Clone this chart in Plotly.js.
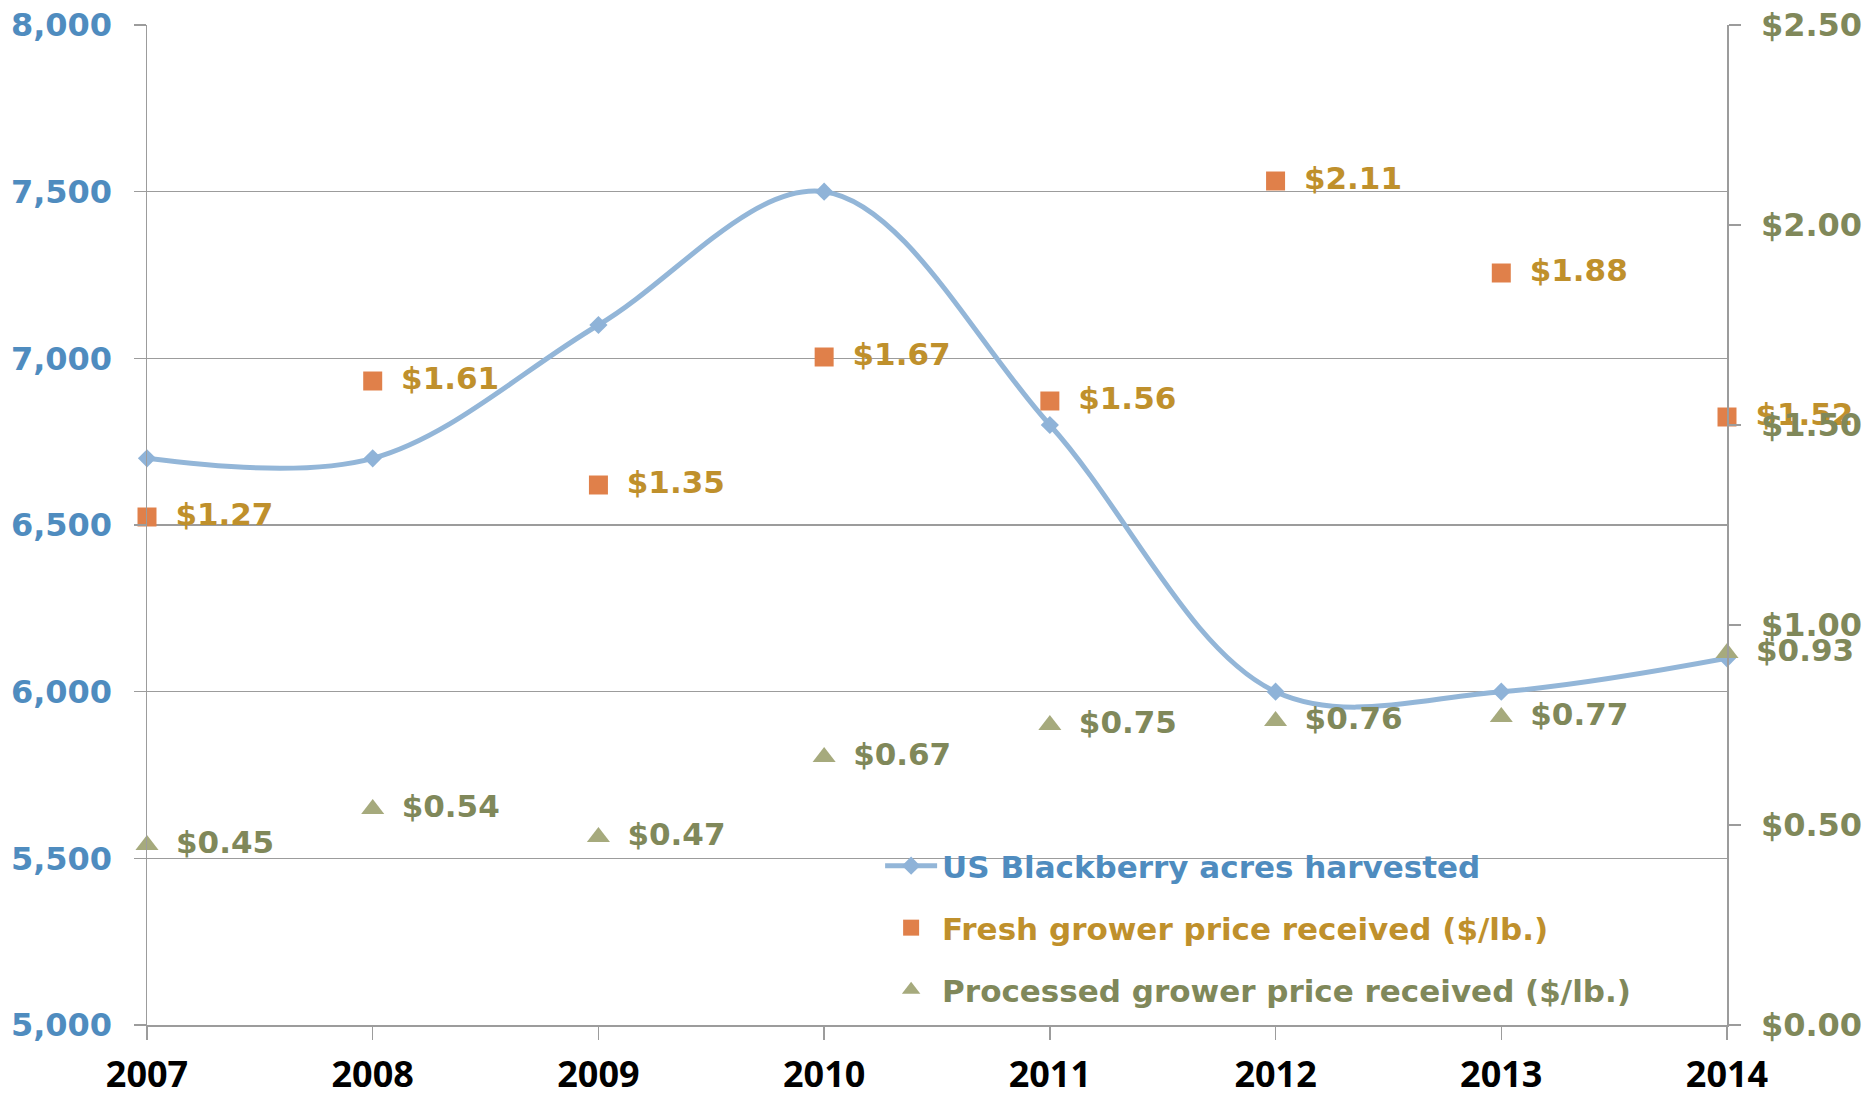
<!DOCTYPE html>
<html><head><meta charset="utf-8">
<script src="https://cdn.plot.ly/plotly-3.0.1.min.js"></script>
<style>html,body{margin:0;padding:0;background:#fff}#chart{width:1868px;height:1098px}</style>
</head><body><div id="chart"></div>
<script>
const years = [2007, 2008, 2009, 2010, 2011, 2012, 2013, 2014];
const acres = [6700, 6700, 7100, 7500, 6800, 6000, 6000, 6100];
const freshPrice = [1.27, 1.61, 1.35, 1.67, 1.56, 2.11, 1.88, 1.52];
const processedPrice = [0.45, 0.54, 0.47, 0.67, 0.75, 0.76, 0.77, 0.93];
const leftTicks = [5000, 5500, 6000, 6500, 7000, 7500, 8000];
const rightTicks = [0, 0.5, 1.0, 1.5, 2.0, 2.5];

const FONT = '"DejaVu Sans", sans-serif';
const BLUE = '#4f8cbf', GOLD = '#bf902c', OLIVE = '#80885a';
const fmt = v => '$' + v.toFixed(2);
const lbl = v => '\u2002' + fmt(v);

const traces = [
  {x: years, y: acres, name: 'US Blackberry acres harvested', type: 'scatter', mode: 'lines+markers',
   line: {color: '#93b6d8', width: 5, shape: 'spline', smoothing: 1},
   marker: {symbol: 'diamond', size: 14, color: '#8fb3d8'},
   yaxis: 'y', cliponaxis: false, legend: 'legend'},
  {x: years, y: freshPrice, name: 'Fresh grower price received ($/lb.)', type: 'scatter', mode: 'markers+text',
   marker: {symbol: 'square', size: 19, color: '#e0804a'},
   text: freshPrice.map(lbl), textposition: 'middle right',
   textfont: {family: FONT, size: 31, color: GOLD, weight: 'bold'},
   yaxis: 'y2', cliponaxis: false, legend: 'legend2'},
  {x: years, y: processedPrice, name: 'Processed grower price received ($/lb.)', type: 'scatter', mode: 'markers+text',
   marker: {symbol: 'triangle-up', size: 20, color: '#a6aa7d'},
   text: processedPrice.map(lbl), textposition: 'middle right',
   textfont: {family: FONT, size: 31, color: OLIVE, weight: 'bold'},
   yaxis: 'y2', cliponaxis: false, legend: 'legend3'}
];

const legendBase = {x: 0.464, xanchor: 'left', yanchor: 'middle', bgcolor: 'rgba(0,0,0,0)', itemsizing: 'trace', itemwidth: 52};

const layout = {
  width: 1868, height: 1098,
  margin: {l: 147, r: 141, t: 25, b: 73},
  paper_bgcolor: '#fff', plot_bgcolor: '#fff',
  showlegend: true,
  xaxis: {range: [2007, 2014], tickvals: years, ticktext: years.map(String),
    showgrid: false, zeroline: false, showline: true, linecolor: '#9c9c9c', linewidth: 1.5,
    ticks: 'outside', ticklen: 13, tickcolor: '#9c9c9c', tickwidth: 1.5, ticklabelstandoff: 4,
    tickfont: {family: '"Open Sans", sans-serif', size: 36, color: '#000', weight: 'bold'}},
  yaxis: {range: [5000, 8000], tickvals: leftTicks, ticktext: leftTicks.map(v => v.toLocaleString('en-US')),
    showgrid: true, gridcolor: '#9c9c9c', gridwidth: 1.5, zeroline: false,
    showline: true, linecolor: '#9c9c9c', linewidth: 1.5,
    ticks: 'outside', ticklen: 12, tickcolor: '#9c9c9c', tickwidth: 1.5, ticklabelstandoff: 15,
    tickfont: {family: FONT, size: 32, color: BLUE, weight: 'bold'}},
  yaxis2: {range: [0, 2.5], tickvals: rightTicks, ticktext: rightTicks.map(fmt), overlaying: 'y', side: 'right',
    showgrid: false, zeroline: false, showline: true, linecolor: '#9c9c9c', linewidth: 1.5,
    ticks: 'outside', ticklen: 12, tickcolor: '#9c9c9c', tickwidth: 1.5, ticklabelstandoff: 14,
    tickfont: {family: FONT, size: 32, color: OLIVE, weight: 'bold'}},
  legend: Object.assign({}, legendBase, {y: 0.159, font: {family: FONT, size: 31, color: BLUE, weight: 'bold'}}),
  legend2: Object.assign({}, legendBase, {y: 0.097, font: {family: FONT, size: 31, color: GOLD, weight: 'bold'}}),
  legend3: Object.assign({}, legendBase, {y: 0.035, font: {family: FONT, size: 31, color: OLIVE, weight: 'bold'}})
};

Plotly.newPlot('chart', traces, layout, {displayModeBar: false, staticPlot: true});
</script></body></html>
